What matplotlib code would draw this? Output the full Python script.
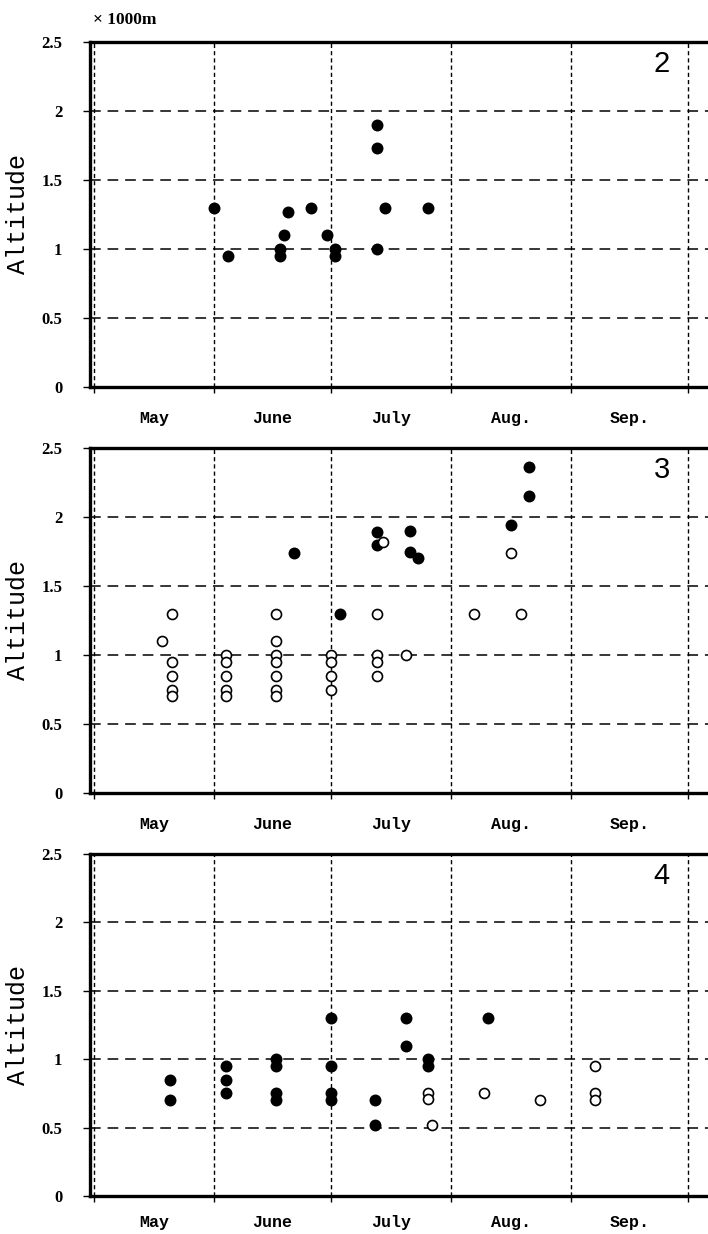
import numpy as np
import matplotlib.pyplot as plt

# x axis: days counted from May 1 (0 = May 1)
month_starts = [0, 31, 61, 92, 123, 153]
month_names = ["May", "June", "July", "Aug.", "Sep."]
y_ticks = [0, 0.5, 1, 1.5, 2, 2.5]
y_tick_labels = ["0", "0.5", "1", "1.5", "2", "2.5"]
panel_names = ["2", "3", "4"]

# panel 2 : only filled points
p2_filled_day = [31, 34.5, 48, 48, 49, 50, 56, 60, 62, 62, 73, 73, 73, 75, 86]
p2_filled_alt = [1.3, 0.95, 1.0, 0.95, 1.1, 1.27, 1.3, 1.1, 1.0, 0.95, 1.9, 1.73, 1.0, 1.3, 1.3]
p2_open_day = []
p2_open_alt = []

# panel 3
p3_filled_day = [51.5, 63.5, 73, 73, 81.5, 81.5, 83.5, 107.5, 112, 112]
p3_filled_alt = [1.74, 1.3, 1.89, 1.8, 1.9, 1.75, 1.7, 1.94, 2.15, 2.36]
p3_open_day = [20, 17.5, 20, 20, 20, 20,
               34, 34, 34, 34, 34,
               47, 47, 47, 47, 47, 47, 47,
               61, 61, 61, 61,
               73, 73, 73, 73, 74.5, 80.5, 98, 107.5, 110]
p3_open_alt = [1.3, 1.1, 0.95, 0.85, 0.75, 0.7,
               1.0, 0.95, 0.85, 0.75, 0.7,
               1.3, 1.1, 1.0, 0.95, 0.85, 0.75, 0.7,
               1.0, 0.95, 0.85, 0.75,
               1.3, 1.0, 0.95, 0.85, 1.82, 1.0, 1.3, 1.74, 1.3]

# panel 4
p4_filled_day = [19.5, 19.5, 34, 34, 34, 47, 47, 47, 47,
                 61, 61, 61, 61, 72.5, 72.5, 80.5, 80.5, 86, 86, 101.5]
p4_filled_alt = [0.85, 0.7, 0.95, 0.85, 0.75, 1.0, 0.95, 0.75, 0.7,
                 1.3, 0.95, 0.75, 0.7, 0.7, 0.52, 1.3, 1.1, 1.0, 0.95, 1.3]
p4_open_day = [86, 86, 87, 100.5, 115, 129, 129, 129]
p4_open_alt = [0.75, 0.71, 0.52, 0.75, 0.7, 0.95, 0.75, 0.7]

panels = [
    (p2_filled_day, p2_filled_alt, p2_open_day, p2_open_alt),
    (p3_filled_day, p3_filled_alt, p3_open_day, p3_open_alt),
    (p4_filled_day, p4_filled_alt, p4_open_day, p4_open_alt),
]

W, H = 708, 1234
fig = plt.figure(figsize=(W / 100, H / 100), dpi=100)

# axes boxes in pixels: (top, bottom)
boxes = [(42, 387), (448, 793), (854, 1196)]
label_pads = [17, 17, 14]
left_px = 90

month_mid = [(a + b) / 2 for a, b in zip(month_starts[:-1], month_starts[1:])]

for (top, bottom), pad, name, (fd, fa, od, oa) in zip(boxes, label_pads, panel_names, panels):
    ax = fig.add_axes([left_px / W, 1 - bottom / H, 1 - left_px / W, (bottom - top) / H])
    ax.set_xlim(-1.03, 158.2)
    ax.set_ylim(0, 2.5)

    # grid lines
    for y in y_ticks[1:-1]:
        ax.axhline(y, color="black", lw=1.1, linestyle=(0, (7, 4.5)), zorder=1)
    for x in month_starts:
        ax.axvline(x, color="black", lw=1.0, linestyle=(0, (3, 2.2)), zorder=1)

    ax.plot(fd, fa, "o", color="black", ms=8.6, mew=0, zorder=3)
    ax.plot(od, oa, "o", mfc="white", mec="black", ms=7.2, mew=1.2, zorder=4)

    # spines
    for s in ["top", "left", "bottom"]:
        ax.spines[s].set_linewidth(2.4)
    ax.spines["right"].set_visible(False)

    # ticks
    ax.set_yticks(y_ticks)
    ax.set_yticklabels(y_tick_labels, fontfamily="Liberation Serif",
                       fontweight="bold", fontsize=12)
    ax.tick_params(axis="y", length=5, width=1, pad=15)
    ax.set_xticks(month_starts)
    ax.set_xticklabels([])
    ax.tick_params(axis="x", which="major", length=4, width=1)
    ax.set_xticks(month_mid, minor=True)
    ax.set_xticklabels(month_names, minor=True, fontfamily="Liberation Mono",
                       fontweight="bold", fontsize=12)
    ax.tick_params(axis="x", which="minor", length=0, pad=pad)

    ax.set_ylabel("Altitude", fontfamily="Liberation Mono", fontsize=18)
    ax.yaxis.set_label_coords(-0.097, 0.5)

    ax.text(0.925, 0.935, name, transform=ax.transAxes, fontsize=21,
            fontfamily="Liberation Sans", ha="center", va="center")

fig.text(93 / W, 1 - 20 / H, "× 1000m", fontfamily="Liberation Serif",
         fontweight="bold", fontsize=12.5, ha="left", va="center")

fig.savefig("out.png", dpi=100)
